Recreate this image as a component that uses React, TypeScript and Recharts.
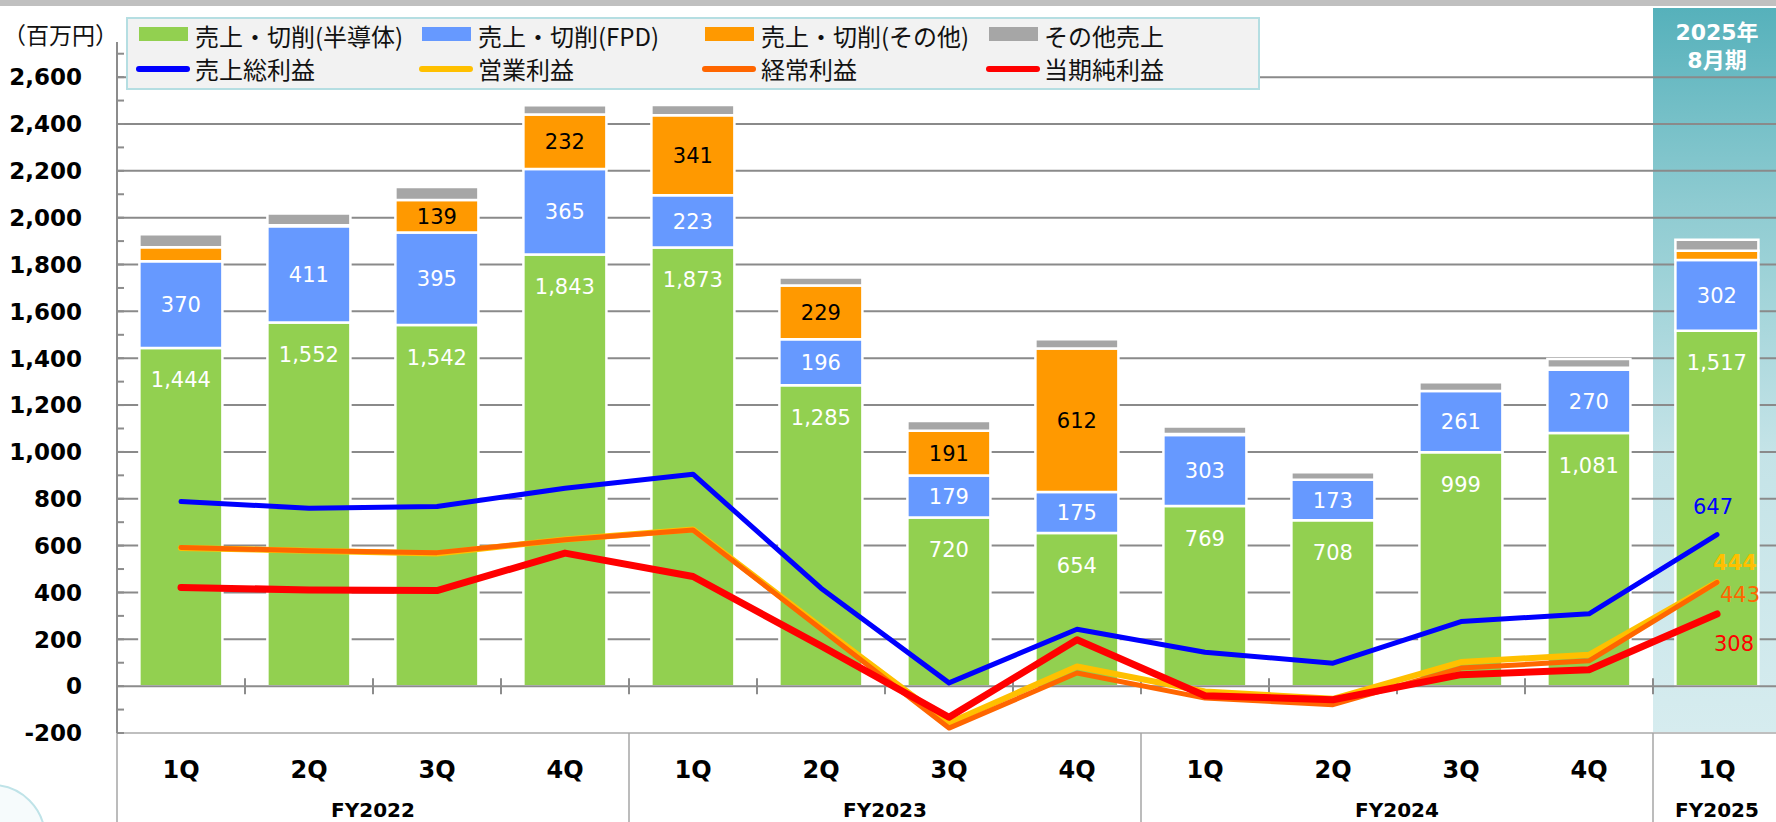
import React from 'react';
import {
  ComposedChart,
  Bar,
  Line,
  XAxis,
  YAxis,
  CartesianGrid,
  ReferenceArea,
  ReferenceLine,
  LabelList,
} from 'recharts';

// ---------- data ----------
const fiscalYears = ['FY2022', 'FY2022', 'FY2022', 'FY2022', 'FY2023', 'FY2023', 'FY2023', 'FY2023', 'FY2024', 'FY2024', 'FY2024', 'FY2024', 'FY2025'];
const quarters = ['1Q', '2Q', '3Q', '4Q', '1Q', '2Q', '3Q', '4Q', '1Q', '2Q', '3Q', '4Q', '1Q'];

const semiconductor = [1444, 1552, 1542, 1843, 1873, 1285, 720, 654, 769, 708, 999, 1081, 1517];
const fpd = [370, 411, 395, 365, 223, 196, 179, 175, 303, 173, 261, 270, 302];
const otherCutting = [60, 5, 139, 232, 341, 229, 191, 612, 4, 0, 0, 8, 40];
const otherSales = [55, 50, 55, 40, 44, 35, 42, 40, 33, 32, 37, 38, 47];

const grossProfit = [788, 760, 767, 845, 905, 418, 14, 243, 145, 98, 276, 309, 647];
const operatingProfit = [590, 578, 566, 626, 669, 252, -157, 84, -23, -54, 103, 134, 444];
const ordinaryProfit = [592, 578, 570, 625, 667, 244, -179, 56, -51, -79, 77, 108, 443];
const netProfit = [421, 411, 408, 568, 468, 172, -133, 198, -41, -58, 49, 70, 308];

const yTicks = [-200, -100, 0, 100, 200, 300, 400, 500, 600, 700, 800, 900, 1000, 1100, 1200, 1300, 1400, 1500, 1600, 1700, 1800, 1900, 2000, 2100, 2200, 2300, 2400, 2500, 2600, 2700];
const gridValues = [200, 400, 600, 800, 1000, 1200, 1400, 1600, 1800, 2000, 2200, 2400, 2600];
const yDomain = [-200, 2750];
const highlightTop = 2895;

const barNames = ['売上・切削(半導体)', '売上・切削(FPD)', '売上・切削(その他)', 'その他売上'];
const lineNames = ['売上総利益', '営業利益', '経常利益', '当期純利益'];

const data = quarters.map((q, i) => ({
  key: `${fiscalYears[i]}-${q}`,
  semi: semiconductor[i],
  fpd: fpd[i],
  otherCut: otherCutting[i],
  otherSales: otherSales[i],
  gross: grossProfit[i],
  operating: operatingProfit[i],
  ordinary: ordinaryProfit[i],
  net: netProfit[i],
}));

// ---------- styles ----------
const NUM_FONT = "'DejaVu Sans', Verdana, sans-serif";
const JP_FONT = "'Noto Sans CJK JP', 'Noto Sans', sans-serif";
const C_GREEN = '#92D050';
const C_BLUE = '#6699FF';
const C_ORANGE = '#FF9900';
const C_GRAY = '#A6A6A6';
const L_BLUE = '#0000FF';
const L_GOLD = '#FFC000';
const L_ORANGE = '#FF6600';
const L_RED = '#FF0000';
const barColors = [C_GREEN, C_BLUE, C_ORANGE, C_GRAY];
const lineColors = [L_BLUE, L_GOLD, L_ORANGE, L_RED];

const fmt = (v: number) => v.toLocaleString('en-US');

const geom = (p: any) => {
  const vb = p.viewBox || {};
  return {
    x: p.x ?? vb.x,
    y: p.y ?? vb.y,
    w: p.width ?? vb.width,
    h: p.height ?? vb.height,
  };
};

const YTick = (p: any) => {
  const { x, y, payload } = p;
  const v = payload.value;
  const major = v % 200 === 0 && v <= 2600;
  return (
    <g>
      <line x1={x} x2={x + 7} y1={y} y2={y} stroke="#8c8c8c" strokeWidth={2} />
      {major && (
        <text x={x - 35} y={y} dy="0.36em" textAnchor="end" fontFamily={NUM_FONT} fontWeight="bold" fontSize={23} fill="#000">
          {fmt(v)}
        </text>
      )}
    </g>
  );
};

const XTick = (p: any) => {
  const { x, y, payload, width } = p;
  const i = p.index ?? payload.index;
  const bw = payload && payload.offset ? payload.offset * 2 : width / quarters.length;
  const fy = fiscalYears[i];
  const first = i === 0 || fiscalYears[i - 1] !== fy;
  let n = 0;
  for (let k = i; k < fiscalYears.length && fiscalYears[k] === fy; k++) n++;
  return (
    <g>
      <text x={x} y={y + 36} dy="0.36em" textAnchor="middle" fontFamily={NUM_FONT} fontWeight="bold" fontSize={24} fill="#000">
        {quarters[i]}
      </text>
      {first && (
        <g>
          <line x1={x - bw / 2} x2={x - bw / 2} y1={y} y2={y + 100} stroke="#a6a6a6" strokeWidth={1.5} />
          <text x={x - bw / 2 + (n * bw) / 2} y={y + 77} dy="0.36em" textAnchor="middle" fontFamily={NUM_FONT} fontWeight="bold" fontSize={20} fill="#000">
            {fy}
          </text>
        </g>
      )}
    </g>
  );
};

const ZeroLine = (p: any) => {
  const { x1, x2, y1 } = p;
  const n = quarters.length;
  const step = (x2 - x1) / n;
  return (
    <g>
      <line x1={x1} x2={x2} y1={y1} y2={y1} stroke="#8c8c8c" strokeWidth={2} />
      {quarters.map((_, k) => (
        <line key={k} x1={x1 + k * step} x2={x1 + k * step} y1={y1 - 8} y2={y1 + 8} stroke="#8c8c8c" strokeWidth={2} />
      ))}
    </g>
  );
};

const greenLabel = (p: any) => {
  const { x, y, w } = geom(p);
  return (
    <text x={x + w / 2} y={y + 32} dy="0.36em" textAnchor="middle" fontFamily={NUM_FONT} fontSize={21} fill="#fff">
      {fmt(p.value)}
    </text>
  );
};
const blueLabel = (p: any) => {
  const { x, y, w, h } = geom(p);
  return (
    <text x={x + w / 2} y={y + h / 2} dy="0.36em" textAnchor="middle" fontFamily={NUM_FONT} fontSize={21} fill="#fff">
      {fmt(p.value)}
    </text>
  );
};
const orangeLabel = (p: any) => {
  if (p.value < 100) return null;
  const { x, y, w, h } = geom(p);
  return (
    <text x={x + w / 2} y={y + h / 2} dy="0.36em" textAnchor="middle" fontFamily={NUM_FONT} fontSize={21} fill="#000">
      {fmt(p.value)}
    </text>
  );
};
const endLabel = (color: string, dx: number, dy: number, bold: boolean) => (p: any) => {
  if (p.index !== quarters.length - 1) return null;
  const { x, y } = geom(p);
  return (
    <text x={x + dx} y={y + dy} dy="0.36em" textAnchor="middle" fontFamily={NUM_FONT} fontSize={21} fontWeight={bold ? 'bold' : 'normal'} fill={color}>
      {fmt(p.value)}
    </text>
  );
};

const highlightLabel = (p: any) => {
  const vb = p.viewBox || {};
  const cx = vb.x + vb.width / 2;
  const top = vb.y;
  return (
    <g>
      <text x={cx} y={top + 24} dy="0.36em" textAnchor="middle" fontFamily={`'DejaVu Sans', ${JP_FONT}`} fontWeight="bold" fontSize={22} fill="#fff">
        2025年
      </text>
      <text x={cx} y={top + 52} dy="0.36em" textAnchor="middle" fontFamily={`'DejaVu Sans', ${JP_FONT}`} fontWeight="bold" fontSize={22} fill="#fff">
        8月期
      </text>
    </g>
  );
};

const legendCols = [139, 422, 705, 989];
const legendTextCols = [195, 478, 761, 1044];

const Legend = () => (
  <div
    style={{
      position: 'absolute',
      left: 126,
      top: 17,
      width: 1130,
      height: 69,
      background: '#f2f2f2',
      border: '2px solid #b5dee2',
      fontFamily: JP_FONT,
      fontSize: 24,
      color: '#111',
    }}
  >
    {barNames.map((name, i) => (
      <React.Fragment key={name}>
        <div style={{ position: 'absolute', left: legendCols[i] - 128, top: 17 - 19 + 10, width: 49, height: 14, background: barColors[i] }} />
        <div style={{ position: 'absolute', left: legendTextCols[i] - 128, top: 0, height: 34, lineHeight: '34px', whiteSpace: 'nowrap' }}>{name}</div>
      </React.Fragment>
    ))}
    {lineNames.map((name, i) => (
      <React.Fragment key={name}>
        <div style={{ position: 'absolute', left: legendCols[i] - 131, top: 69 - 19 - 3, width: 54, height: 6, borderRadius: 3, background: lineColors[i] }} />
        <div style={{ position: 'absolute', left: legendTextCols[i] - 128, top: 33, height: 34, lineHeight: '34px', whiteSpace: 'nowrap' }}>{name}</div>
      </React.Fragment>
    ))}
  </div>
);

export default function App() {
  const lastKey = data[data.length - 1].key;
  return (
    <div style={{ position: 'absolute', left: 0, top: 0, width: 1776, height: 822, overflow: 'hidden', background: '#fff' }}>
      <div style={{ position: 'absolute', left: 0, top: 0, width: 1776, height: 6, background: '#c0c0c0' }} />
      <div
        style={{
          position: 'absolute',
          left: -62,
          top: 784,
          width: 104,
          height: 104,
          borderRadius: '50%',
          border: '2px solid #bfe3e8',
          background: '#f6fbfc',
        }}
      />
      <div style={{ position: 'absolute', top: 0 }}>
        <ComposedChart
          width={1800}
          height={822}
          data={data}
          margin={{ top: 42, right: 19, bottom: 0, left: 0 }}
          barCategoryGap="17.5%"
        >
          <defs>
            <linearGradient id="tealGrad" x1="0" y1="0" x2="0" y2="1">
              <stop offset="0" stopColor="#56b1bb" />
              <stop offset="0.27" stopColor="#8ecbd1" />
              <stop offset="0.61" stopColor="#c4e3e7" />
              <stop offset="1" stopColor="#d6ecef" />
            </linearGradient>
          </defs>
          <ReferenceArea
            x1={lastKey}
            x2={lastKey}
            y1={yDomain[0]}
            y2={highlightTop}
            ifOverflow="visible"
            fill="url(#tealGrad)"
            fillOpacity={1}
            stroke="none"
            label={highlightLabel}
            zIndex={-150}
          />
          <CartesianGrid vertical={false} horizontal horizontalValues={gridValues} stroke="#8a8a8a" strokeWidth={2} />
          <XAxis
            dataKey="key"
            height={89}
            interval={0}
            tickLine={false}
            tickSize={0}
            tickMargin={0}
            axisLine={{ stroke: '#bfbfbf', strokeWidth: 2 }}
            tick={XTick}
          />
          <YAxis
            width={117}
            domain={yDomain}
            allowDataOverflow
            ticks={yTicks}
            interval={0}
            tickLine={false}
            tickSize={0}
            tickMargin={0}
            axisLine={{ stroke: '#8c8c8c', strokeWidth: 2 }}
            tick={YTick}
          />
          <ReferenceLine y={0} shape={ZeroLine} />
          <Bar dataKey="semi" stackId="s" fill={C_GREEN} stroke="#fff" strokeWidth={2.5} isAnimationActive={false}>
            <LabelList dataKey="semi" content={greenLabel} />
          </Bar>
          <Bar dataKey="fpd" stackId="s" fill={C_BLUE} stroke="#fff" strokeWidth={2.5} isAnimationActive={false}>
            <LabelList dataKey="fpd" content={blueLabel} />
          </Bar>
          <Bar dataKey="otherCut" stackId="s" fill={C_ORANGE} stroke="#fff" strokeWidth={2.5} isAnimationActive={false}>
            <LabelList dataKey="otherCut" content={orangeLabel} />
          </Bar>
          <Bar dataKey="otherSales" stackId="s" fill={C_GRAY} stroke="#fff" strokeWidth={2.5} isAnimationActive={false} />
          <Line dataKey="gross" stroke={L_BLUE} strokeWidth={5} dot={false} activeDot={false} strokeLinecap="round" strokeLinejoin="round" isAnimationActive={false}>
            <LabelList dataKey="gross" content={endLabel(L_BLUE, -4, -28, false)} />
          </Line>
          <Line dataKey="operating" stroke={L_GOLD} strokeWidth={6} dot={false} activeDot={false} strokeLinecap="round" strokeLinejoin="round" isAnimationActive={false}>
            <LabelList dataKey="operating" content={endLabel(L_GOLD, 18, -20, true)} />
          </Line>
          <Line dataKey="ordinary" stroke={L_ORANGE} strokeWidth={5} dot={false} activeDot={false} strokeLinecap="round" strokeLinejoin="round" isAnimationActive={false}>
            <LabelList dataKey="ordinary" content={endLabel(L_ORANGE, 23, 12, false)} />
          </Line>
          <Line dataKey="net" stroke={L_RED} strokeWidth={7} dot={false} activeDot={false} strokeLinecap="round" strokeLinejoin="round" isAnimationActive={false}>
            <LabelList dataKey="net" content={endLabel(L_RED, 17, 29, false)} />
          </Line>
        </ComposedChart>
      </div>
      <div style={{ position: 'absolute', left: 3, top: 16, fontFamily: JP_FONT, fontSize: 23, lineHeight: '36px', color: '#111', whiteSpace: 'nowrap' }}>
        （百万円）
      </div>
      <Legend />
    </div>
  );
}
